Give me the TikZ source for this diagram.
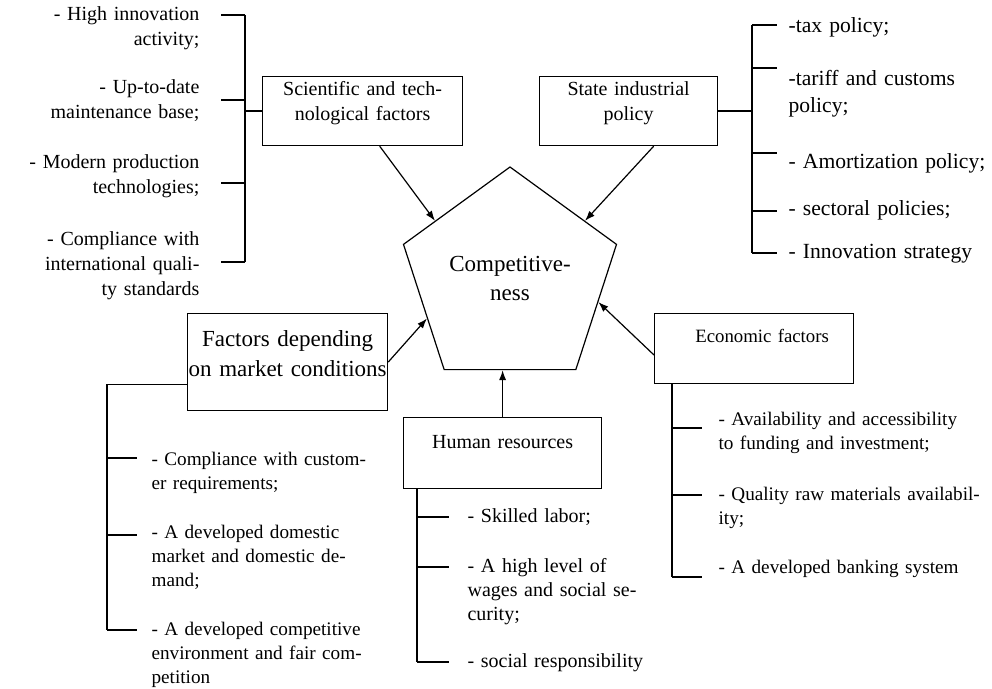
\documentclass[tikz,border=0pt]{standalone}
\usepackage{fontspec}
\setmainfont{Liberation Serif}
\usetikzlibrary{calc,arrows.meta,shapes.geometric,positioning}
\tikzset{
    block/.style = {draw, rectangle, inner sep=0, align=center,
        anchor=north west,
        font=\fontsize{10}{12.5}\selectfont},
    pent/.style = {draw, regular polygon, regular polygon sides=5,
        minimum size=112pt, inner sep=0, align=center,
        font=\fontsize{11.5}{14.5}\selectfont},
    note/.style = {inner sep=0, font=\fontsize{10}{12.5}\selectfont},
    lnote/.style = {note, align=left, anchor=base west},
    rnote/.style = {note, align=right, anchor=base east},
    arrow/.style = {draw, -{Latex[length=5pt,width=3.6pt]}}
}
\begin{document}
\begin{tikzpicture}[x=0.5pt,y=-0.5pt,line width=0.6pt]
    \useasboundingbox (0,0) rectangle (992,689);
    \node[pent] (comp) at (510,279) {Competitive-\\ness};
    \node[block,text width=100pt,text height=9.5pt,text depth=25pt] (sci) at (262,76) {Scientific and tech-\\nological factors};
    \node[block,text width=89pt,text height=9.5pt,text depth=25pt] (ind) at (539,76) {State industrial\\policy};
    \node[block,text width=100pt,text height=16.5pt,text depth=32pt,font=\fontsize{11.5}{15}\selectfont] (mkt) at (187,313) {Factors depending\\on market conditions};
    \node[block,text width=99.5pt,text height=14.5pt,text depth=20.5pt,font=\fontsize{9.4}{12}\selectfont] (eco) at (654,313) {\hspace*{8pt}Economic factors};
    \node[block,text width=99pt,text height=15.5pt,text depth=20pt] (hum) at (403,417) {Human resources};
    \draw[arrow] ($(sci.south west)!0.585!(sci.south east)$) -- ($(comp.corner 1)!0.7!(comp.corner 2)$);
    \draw[arrow] ($(ind.south west)!0.64!(ind.south east)$) -- ($(comp.corner 1)!0.7!(comp.corner 5)$);
    \draw[arrow] (mkt.east) -- ($(comp.corner 2)!0.59!(comp.corner 3)$);
    \draw[arrow] ($(eco.north west)!0.59!(eco.south west)$) -- ($(comp.corner 5)!0.46!(comp.corner 4)$);
    \draw[arrow] (hum.north) -- (hum.north |- comp.south);
    \coordinate (sciT) at (245,15);
    \coordinate (sciB) at (245,262);
    \draw (sciT) -- (sciB);
    \draw (sci.west) -- (sci.west -| sciT);
    \foreach \y in {15,100,183,262} \draw (245,\y) -- (221,\y);
    \node[rnote,text width=95pt] (sci1) at (200,21) {- High innovation\\activity;};
    \node[rnote,text width=95pt] (sci2) at (200,94) {- Up-to-date\\maintenance base;};
    \node[rnote,text width=95pt] (sci3) at (200,169) {- Modern production\\technologies;};
    \node[rnote,text width=95pt] (sci4) at (200,246) {- Compliance with\\international quali-\\ty standards};
    \coordinate (indT) at (752,25);
    \coordinate (indB) at (752,253);
    \draw (indT) -- (indB);
    \draw (ind.east) -- (ind.east -| indT);
    \foreach \y in {25,68,153,211,253} \draw (752,\y) -- (777,\y);
    \node[lnote,text width=102pt,font=\fontsize{10.8}{13.5}\selectfont] (ind1) at (788,33) {-tax policy;};
    \node[lnote,text width=102pt,font=\fontsize{10.8}{13.5}\selectfont] (ind2) at (788,86) {-tariff and customs\\policy;};
    \node[lnote,text width=102pt,font=\fontsize{10.8}{13.5}\selectfont] (ind3) at (788,169) {- Amortization policy;};
    \node[lnote,text width=102pt,font=\fontsize{10.8}{13.5}\selectfont] (ind4) at (788,216) {- sectoral policies;};
    \node[lnote,text width=102pt,font=\fontsize{10.8}{13.5}\selectfont] (ind5) at (788,259) {- Innovation strategy};
    \coordinate (mktB) at (107,630);
    \draw ($(mkt.south west)+(0,-27)$) -| (mktB);
    \foreach \y in {458,535,630} \draw (107,\y) -- (137,\y);
    \node[lnote,text width=122pt,font=\fontsize{9.6}{12}\selectfont] (mkt1) at (151,466) {- Compliance with custom-\\er requirements;};
    \node[lnote,text width=122pt,font=\fontsize{9.6}{12}\selectfont] (mkt2) at (151,539) {- A developed domestic\\market and domestic de-\\mand;};
    \node[lnote,text width=122pt,font=\fontsize{9.6}{12}\selectfont] (mkt3) at (151,636) {- A developed competitive\\environment and fair com-\\petition};
    \coordinate (humB) at (417,662);
    \draw ($(hum.south west)+(14,0)$) -- (humB);
    \foreach \y in {517,567,662} \draw (417,\y) -- (449,\y);
    \node[lnote,text width=95pt,font=\fontsize{10}{12}\selectfont] (hum1) at (467,523) {- Skilled labor;};
    \node[lnote,text width=95pt,font=\fontsize{10}{12}\selectfont] (hum2) at (467,573) {- A high level of\\wages and social se-\\curity;};
    \node[lnote,text width=95pt,font=\fontsize{10}{12}\selectfont] (hum3) at (467,668) {- social responsibility};
    \coordinate (ecoB) at (672,577);
    \draw ($(eco.south west)+(18,0)$) -- (ecoB);
    \foreach \y in {428,495,577} \draw (672,\y) -- (702,\y);
    \node[lnote,text width=136pt,font=\fontsize{9.6}{12}\selectfont] (eco1) at (718,426) {- Availability and accessibility\\to funding and investment;};
    \node[lnote,text width=136pt,font=\fontsize{9.6}{12}\selectfont] (eco2) at (718,501) {- Quality raw materials availabil-\\ity;};
    \node[lnote,text width=136pt,font=\fontsize{9.6}{12}\selectfont] (eco3) at (718,574) {- A developed banking system};
\end{tikzpicture}
\end{document}
